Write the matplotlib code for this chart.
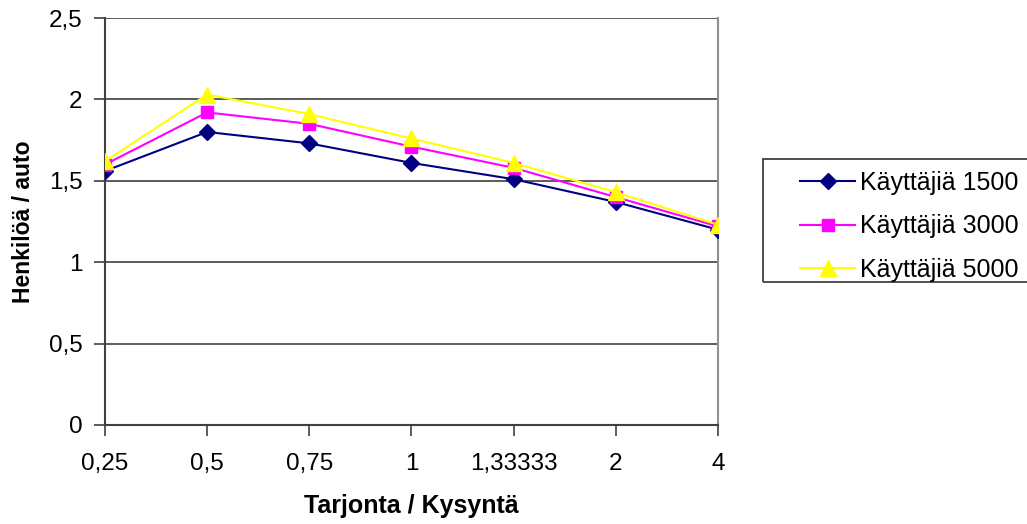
import matplotlib.pyplot as plt
from matplotlib.patches import Rectangle

plt.rcParams['font.family'] = ['Liberation Sans', 'DejaVu Sans']

categories = ["0,25", "0,5", "0,75", "1", "1,33333", "2", "4"]
users_1500 = [1.56, 1.80, 1.73, 1.61, 1.51, 1.37, 1.20]
users_3000 = [1.60, 1.92, 1.85, 1.71, 1.58, 1.40, 1.22]
users_5000 = [1.62, 2.03, 1.91, 1.76, 1.61, 1.43, 1.23]
y_ticks = [0, 0.5, 1, 1.5, 2, 2.5]
y_tick_labels = ["0", "0,5", "1", "1,5", "2", "2,5"]

fig = plt.figure(figsize=(10.27, 5.24), dpi=100)
ax = fig.add_axes([0.1022, 0.189, 0.5968, 0.7766])

x = range(len(categories))
ax.plot(x, users_1500, color="#000080", lw=1.5, marker="D", ms=8,
        label="Käyttäjiä 1500", zorder=3)
ax.plot(x, users_3000, color="#FF00FF", lw=1.5, marker="s", ms=9,
        label="Käyttäjiä 3000", zorder=4)
ax.plot(x, users_5000, color="#FFFF00", lw=1.5, marker="^", ms=11,
        label="Käyttäjiä 5000", zorder=5)

ax.set_xlim(0, len(categories) - 1)
ax.set_ylim(0, 2.5)
ax.set_xticks(list(x))
ax.set_xticklabels(categories)
ax.set_yticks(y_ticks)
ax.set_yticklabels(y_tick_labels)

# horizontal gridlines, Excel style
for y in y_ticks[1:]:
    ax.axhline(y, color="#404040", lw=1.2, zorder=1)

for side in ("left", "bottom"):
    ax.spines[side].set_color("#404040")
    ax.spines[side].set_linewidth(1.5)
ax.spines["top"].set_visible(False)
ax.spines["right"].set_color("#909090")
ax.spines["right"].set_linewidth(1.5)

ax.tick_params(axis="both", direction="out", length=8, width=1.2,
               color="#404040", labelsize=17.5)
ax.tick_params(axis="x", pad=12)
ax.tick_params(axis="y", pad=8)

ax.set_xlabel("Tarjonta / Kysyntä", fontsize=18, fontweight="bold",
              labelpad=14)
ax.set_ylabel("Henkilöä / auto", fontsize=16.5, fontweight="bold",
              labelpad=10)

# legend without its own frame; the box is drawn separately so it can run off the edge
leg = fig.legend(loc="upper left", bbox_to_anchor=(800 / 1027, 1 - 171 / 524),
                 fontsize=18, frameon=False, borderpad=0,
                 handlelength=2.2, handletextpad=0.2, labelspacing=0.78,
                 borderaxespad=0)
fig.add_artist(Rectangle((763 / 1027, 1 - 282 / 524), 270 / 1027, 123 / 524,
                         transform=fig.transFigure, fill=False,
                         edgecolor="#404040", lw=1.3))

fig.savefig("out.png", dpi=100)
